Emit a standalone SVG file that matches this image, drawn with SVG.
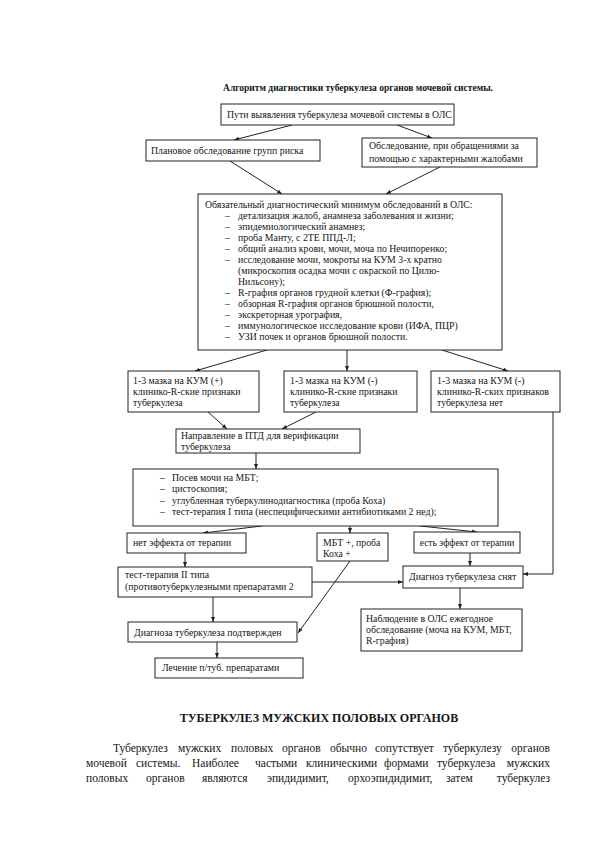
<svg xmlns="http://www.w3.org/2000/svg" width="594" height="841" viewBox="0 0 594 841">
<defs>
<style>
text{font-family:"Liberation Serif","Times New Roman",serif;fill:#151515;}
.t{font-size:9.8px;}
.b{font-weight:bold;}
.box{fill:#fff;stroke:#222;stroke-width:1;}
.c{fill:none;stroke:#222;stroke-width:1;}
.p{font-size:11.5px;}
</style>
<marker id="ah" viewBox="0 0 10 10" refX="10" refY="5" markerWidth="5" markerHeight="5" orient="auto" markerUnits="userSpaceOnUse"><path d="M0,1 L10,5 L0,9 z" fill="#222"/></marker>
</defs>
<rect width="594" height="841" fill="#fff"/>
<text class="b" font-size="9.5" x="358" y="91" text-anchor="middle">Алгоритм диагностики туберкулеза органов мочевой системы.</text>

<g id="connectors">
<path class="c" marker-end="url(#ah)" d="M292,125 L234,140"/>
<path class="c" marker-end="url(#ah)" d="M397,125 L432,138"/>
<path class="c" marker-end="url(#ah)" d="M230,161 L282,194"/>
<path class="c" marker-end="url(#ah)" d="M440,167 L386,194"/>
<path class="c" marker-end="url(#ah)" d="M267,350 L195,371"/>
<path class="c" marker-end="url(#ah)" d="M347,350 L347,371"/>
<path class="c" marker-end="url(#ah)" d="M442,350 L508,371"/>
<path class="c" marker-end="url(#ah)" d="M208,412 L227,429"/>
<path class="c" marker-end="url(#ah)" d="M316,412 L282,429"/>
<path class="c" marker-end="url(#ah)" d="M256,453 L256,469"/>
<path class="c" marker-end="url(#ah)" d="M262,526 L203,533"/>
<path class="c" marker-end="url(#ah)" d="M350,526 L350,533"/>
<path class="c" marker-end="url(#ah)" d="M420,526 L477,532"/>
<path class="c" marker-end="url(#ah)" d="M185,553 L185,567"/>
<path class="c" marker-end="url(#ah)" d="M470,553 L470,566"/>
<path class="c" marker-end="url(#ah)" d="M312,582 L403,582"/>
<path class="c" marker-end="url(#ah)" d="M553,412 L553,574 L523,574"/>
<path class="c" marker-end="url(#ah)" d="M350,561 L298,633"/>
<path class="c" marker-end="url(#ah)" d="M213,597 L213,622"/>
<path class="c" marker-end="url(#ah)" d="M460,588 L460,609"/>
<path class="c" marker-end="url(#ah)" d="M217,642 L217,658"/>
</g>

<g id="nodeA"><rect class="box" x="221" y="104" width="233" height="21"/><text class="t" x="227" y="118">Пути выявления туберкулеза мочевой системы в ОЛС</text></g>
<g id="nodeB"><rect class="box" x="146" y="140" width="174" height="21"/><text class="t" x="151" y="154">Плановое обследование групп риска</text></g>
<g id="nodeC"><rect class="box" x="362" y="138" width="175" height="29"/><text class="t" x="369" y="149">Обследование, при обращениями за</text><text class="t" x="369" y="162">помощью с характерными жалобами</text></g>

<g id="nodeD"><rect class="box" x="198" y="194" width="304" height="156"/>
<text class="t" x="205" y="208">Обязательный диагностический минимум обследований в ОЛС:</text>
<g class="t">
<text x="225" y="219">–</text><text x="238" y="219">детализация жалоб, анамнеза заболевания и жизни;</text>
<text x="225" y="230">–</text><text x="238" y="230">эпидемиологический анамнез;</text>
<text x="225" y="241">–</text><text x="238" y="241">проба Манту, с 2ТЕ ППД-Л;</text>
<text x="225" y="252">–</text><text x="238" y="252">общий анализ крови, мочи, моча по Нечипоренко;</text>
<text x="225" y="263">–</text><text x="238" y="263">исследование мочи,  мокроты на КУМ 3-х кратно</text>
<text x="238" y="274">(микроскопия осадка мочи с окраской по Цилю-</text>
<text x="238" y="285">Нильсону);</text>
<text x="225" y="296">–</text><text x="238" y="296">R-графия органов грудной клетки (Ф-графия);</text>
<text x="225" y="307">–</text><text x="238" y="307">обзорная R-графия органов брюшной полости,</text>
<text x="225" y="318">–</text><text x="238" y="318">экскреторная урография,</text>
<text x="225" y="329">–</text><text x="238" y="329">иммунологическое исследование крови (ИФА, ПЦР)</text>
<text x="225" y="340">–</text><text x="238" y="340">УЗИ почек и органов брюшной полости.</text>
</g></g>

<g id="nodeE"><rect class="box" x="128" y="371" width="131" height="41"/><text class="t" x="133" y="384">1-3 мазка на КУМ (+)</text><text class="t" x="133" y="395">клинико-R-ские признаки</text><text class="t" x="133" y="406">туберкулеза</text></g>
<g id="nodeF"><rect class="box" x="284" y="371" width="133" height="41"/><text class="t" x="290" y="384">1-3 мазка на КУМ (-)</text><text class="t" x="290" y="395">клинико-R-ские признаки</text><text class="t" x="290" y="406">туберкулеза</text></g>
<g id="nodeG"><rect class="box" x="431" y="371" width="129" height="41"/><text class="t" x="437" y="384">1-3 мазка на КУМ (-)</text><text class="t" x="437" y="395">клинико-R-ских признаков</text><text class="t" x="437" y="406">туберкулеза нет</text></g>

<g id="nodeH"><rect class="box" x="176" y="429" width="184" height="24"/><text class="t" x="181" y="439">Направление в ПТД для верификации</text><text class="t" x="181" y="450">туберкулеза</text></g>

<g id="nodeI"><rect class="box" x="133" y="469" width="365" height="57"/>
<g class="t">
<text x="160" y="481">–</text><text x="172" y="481">Посев мочи на МБТ;</text>
<text x="160" y="492">–</text><text x="172" y="492">цистоскопия;</text>
<text x="160" y="504">–</text><text x="172" y="504">углубленная туберкулинодиагностика (проба Коха)</text>
<text x="160" y="515">–</text><text x="172" y="515">тест-терапия I типа (неспецифическими антибиотиками 2 нед);</text>
</g></g>

<g id="nodeJ"><rect class="box" x="127" y="533" width="119" height="20"/><text class="t" x="133" y="546">нет эффекта от терапии</text></g>
<g id="nodeK"><rect class="box" x="317" y="533" width="71" height="28"/><text class="t" x="323" y="546">МБТ +, проба</text><text class="t" x="323" y="557">Коха +</text></g>
<g id="nodeL"><rect class="box" x="414" y="532" width="106" height="21"/><text x="467" y="546" font-size="9.5" text-anchor="middle">есть эффект от терапии</text></g>

<g id="nodeM"><rect class="box" x="118" y="567" width="194" height="30"/><text class="t" x="125" y="578">тест-терапия II типа</text><text class="t" x="125" y="590">(противотуберкулезными препаратами 2</text></g>
<g id="nodeN"><rect class="box" x="403" y="566" width="120" height="22"/><text class="t" x="409" y="580">Диагноз туберкулеза снят</text></g>
<g id="nodeO"><rect class="box" x="361" y="609" width="161" height="42"/><text class="t" x="366" y="622">Наблюдение в ОЛС ежегодное</text><text class="t" x="366" y="633">обследование (моча на КУМ, МБТ,</text><text class="t" x="366" y="644">R-графия)</text></g>
<g id="nodeP"><rect class="box" x="128" y="622" width="169" height="20"/><text class="t" x="134" y="636">Диагноза туберкулеза подтвержден</text></g>
<g id="nodeQ"><rect class="box" x="155" y="658" width="148" height="20"/><text class="t" x="162" y="671">Лечение п/туб. препаратами</text></g>

<text class="b" x="319" y="722" font-size="12" text-anchor="middle">ТУБЕРКУЛЕЗ МУЖСКИХ ПОЛОВЫХ ОРГАНОВ</text>
<text class="p" y="752"><tspan x="113">Туберкулез</tspan><tspan x="178">мужских</tspan><tspan x="231">половых</tspan><tspan x="282">органов</tspan><tspan x="330">обычно</tspan><tspan x="375">сопутствует</tspan><tspan x="443">туберкулезу</tspan><tspan x="550" text-anchor="end">органов</tspan></text>
<text class="p" y="767"><tspan x="86">мочевой</tspan><tspan x="136">системы.</tspan><tspan x="192">Наиболее</tspan><tspan x="255">частыми</tspan><tspan x="306">клиническими</tspan><tspan x="384">формами</tspan><tspan x="437">туберкулеза</tspan><tspan x="550" text-anchor="end">мужских</tspan></text>
<text class="p" y="782"><tspan x="86">половых</tspan><tspan x="146">органов</tspan><tspan x="202">являются</tspan><tspan x="267">эпидидимит,</tspan><tspan x="348">орхоэпидидимит,</tspan><tspan x="446">затем</tspan><tspan x="550" text-anchor="end">туберкулез</tspan></text>
</svg>
